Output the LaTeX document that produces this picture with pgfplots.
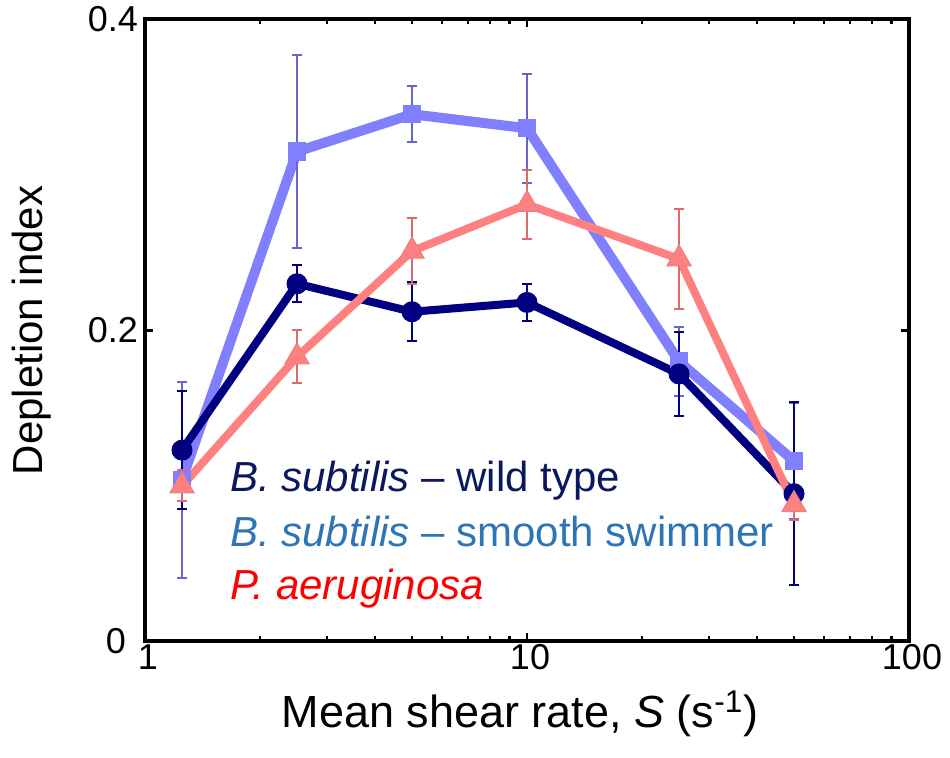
\documentclass[border=0pt]{standalone}
\usepackage{pgfplots}
\pgfplotsset{compat=1.18}
\usepackage{fontspec}
\setmainfont{Liberation Sans}
\definecolor{wt}{RGB}{0,0,128}
\definecolor{ss}{RGB}{128,128,255}
\definecolor{pa}{RGB}{255,128,128}
\definecolor{wttxt}{RGB}{10,25,95}
\definecolor{sstxt}{RGB}{46,117,182}

\begin{document}
\begin{tikzpicture}
\begin{axis}[
  name=ax,
  scale only axis, width=382pt, height=311pt,
  xmode=log, xmin=1, xmax=100, ymin=0, ymax=0.4,
  xtick={1,10,100}, xticklabels={1,10,100},
  ytick={0,0.2,0.4}, yticklabels={\raisebox{-5pt}{0\hspace{6pt}},0.2,0.4},
  tick align=inside, major tick length=4pt, minor tick length=2.5pt,
  every tick/.style={black, line width=1.2pt},
  axis line style={line width=2pt},
  tick label style={font=\fontsize{18}{21}\selectfont},
  xticklabel style={yshift=2pt, xshift=1.5pt},
  xlabel={Mean shear rate, \textit{S} (s\textsuperscript{-1})},
  ylabel={Depletion index},
  xlabel style={font=\fontsize{22.5}{26}\selectfont, inner sep=0pt,
    at={([yshift=-43pt,xshift=-3.5pt]axis description cs:0.5,0)}, anchor=base},
  ylabel style={font=\fontsize{21}{25}\selectfont, inner sep=0pt,
    at={([xshift=-46.5pt]axis description cs:0,0.5)}, anchor=south, rotate=0},
  clip=false,
]
\addplot[color=ss, line width=5pt, mark=square*, mark size=4.3pt,
  mark options={line width=0.5pt, fill=ss},
  error bars/.cd, y dir=both, y explicit,
  error bar style={line width=1pt, color=ss!80!black},
  error mark options={rotate=90, mark size=2.6pt, line width=1pt, color=ss!80!black}]
  table[x=x, y=y, y error=e] {
x y e
1.25 0.104 0.063
2.5 0.315 0.062
5 0.339 0.018
10 0.330 0.035
25 0.180 0.022
50 0.116 0.037
};
\addplot[color=wt, line width=4pt, mark=*, mark size=5pt,
  mark options={line width=0.5pt, fill=wt},
  error bars/.cd, y dir=both, y explicit,
  error bar style={line width=1pt, color=wt},
  error mark options={rotate=90, mark size=2.6pt, line width=1pt, color=wt}]
  table[x=x, y=y, y error=e] {
x y e
1.25 0.123 0.038
2.5 0.230 0.012
5 0.212 0.019
10 0.218 0.012
25 0.172 0.027
50 0.095 0.059
};
\addplot[color=pa, line width=4pt, mark=triangle*, mark size=7pt,
  mark options={line width=0.5pt, fill=pa, draw=pa!80!gray},
  error bars/.cd, y dir=both, y explicit,
  error bar style={line width=1pt, color=pa!85!black},
  error mark options={rotate=90, mark size=2.6pt, line width=1pt, color=pa!85!black}]
  table[x=x, y=y, y error=e] {
x y e
1.25 0.100 0.010
2.5 0.183 0.017
5 0.251 0.021
10 0.281 0.022
25 0.246 0.032
50 0.088 0.010
};
\node[anchor=base west, text=wttxt, font=\fontsize{21}{25}\selectfont, inner sep=0pt]
  at (rel axis cs:0.111,0.241) {\textit{B. subtilis} -- wild type};
\node[anchor=base west, text=sstxt, font=\fontsize{21}{25}\selectfont, inner sep=0pt]
  at (rel axis cs:0.111,0.153) {\textit{B. subtilis} -- smooth swimmer};
\node[anchor=base west, text=red, font=\fontsize{21}{25}\selectfont, inner sep=0pt]
  at (rel axis cs:0.111,0.067) {\textit{P. aeruginosa}};
\end{axis}
\path ([xshift=-72.5pt,yshift=-58pt]ax.south west) rectangle ([xshift=20.5pt,yshift=9pt]ax.north east);
\end{tikzpicture}
\end{document}
